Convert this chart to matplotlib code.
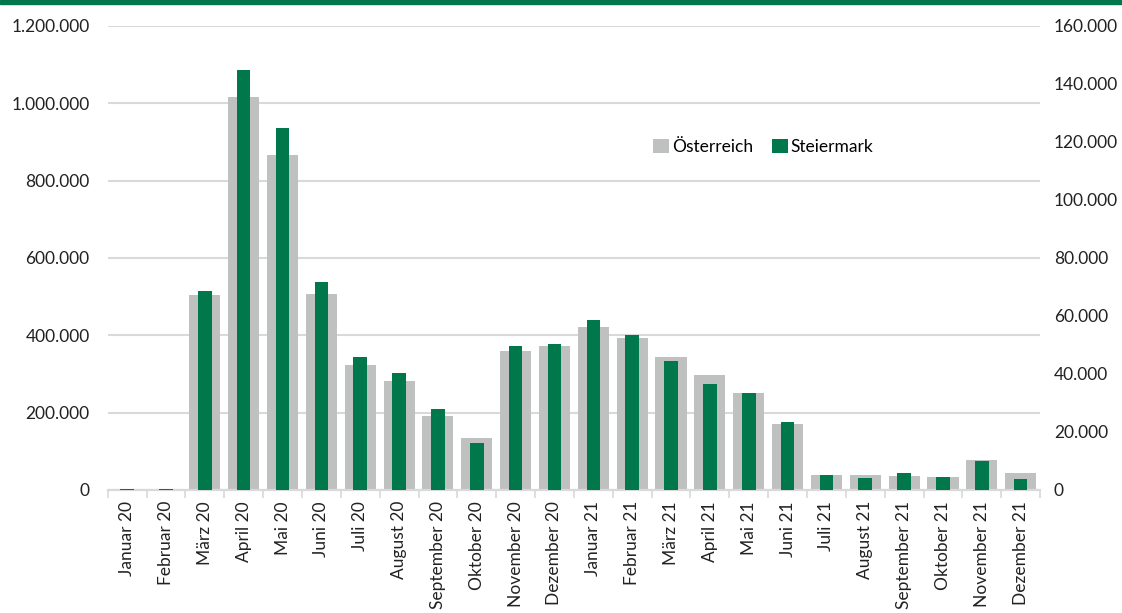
import matplotlib.pyplot as plt
import matplotlib.ticker as mticker
from matplotlib.patches import Rectangle
import numpy as np

months = ["Januar 20", "Februar 20", "März 20", "April 20", "Mai 20", "Juni 20",
          "Juli 20", "August 20", "September 20", "Oktober 20", "November 20", "Dezember 20",
          "Januar 21", "Februar 21", "März 21", "April 21", "Mai 21", "Juni 21",
          "Juli 21", "August 21", "September 21", "Oktober 21", "November 21", "Dezember 21"]

# Österreich (linke Achse)
oesterreich = [3000, 3000, 504000, 1017000, 867000, 507000,
               323000, 282000, 192000, 134000, 360000, 372000,
               422000, 393000, 344000, 297000, 251000, 171000,
               39000, 39000, 36000, 34000, 78000, 44000]

# Steiermark (rechte Achse)
steiermark = [300, 300, 68600, 144800, 124800, 71700,
              45900, 40300, 27800, 16300, 49600, 50300,
              58600, 53400, 44500, 36400, 33400, 23400,
              5200, 4100, 5900, 4500, 10000, 3800]

GREY = "#BFC1C1"
GREEN = "#00784B"
GRID = "#D9D9D9"

plt.rcParams["font.family"] = ["Lato", "DejaVu Sans"]

fig = plt.figure(figsize=(11.22, 6.13), dpi=100)
ax = fig.add_axes([0.096, 0.2007, 0.831, 0.757])
ax2 = ax.twinx()

x = np.arange(len(months))
ax.bar(x, oesterreich, width=0.8, color=GREY, label="Österreich", zorder=2)
ax2.bar(x, steiermark, width=0.35, color=GREEN, label="Steiermark", zorder=3)

ax.set_xlim(-0.5, len(months) - 0.5)
ax.set_ylim(0, 1200000)
ax2.set_ylim(0, 160000)
ax.set_yticks(np.arange(0, 1200001, 200000))
ax2.set_yticks(np.arange(0, 160001, 20000))

dots = mticker.FuncFormatter(lambda v, p: f"{v:,.0f}".replace(",", "."))
ax.yaxis.set_major_formatter(dots)
ax2.yaxis.set_major_formatter(dots)

ax.grid(axis="y", color=GRID, linewidth=1.5, zorder=0)
ax.set_axisbelow(True)

# Kategorien mit Trennstrichen
ax.set_xticks(x)
ax.set_xticklabels(months, rotation=90, fontsize=12.5, color="#222222")
ax.set_xticks(np.arange(-0.5, len(months), 1), minor=True)
ax.tick_params(axis="x", which="major", length=0, pad=8)
ax.tick_params(axis="x", which="minor", length=6, color=GRID, width=1.2)

ax.tick_params(axis="y", length=0, labelsize=12.5, labelcolor="#222222", pad=13)
ax2.tick_params(axis="y", length=0, labelsize=12.5, labelcolor="#222222", pad=10)

for a in (ax, ax2):
    for side in ("top", "left", "right"):
        a.spines[side].set_visible(False)
    a.spines["bottom"].set_color(GRID)
    a.spines["bottom"].set_linewidth(1.5)

h1, l1 = ax.get_legend_handles_labels()
h2, l2 = ax2.get_legend_handles_labels()
ax2.legend(h1 + h2, l1 + l2, loc="center", bbox_to_anchor=(0.703, 0.739), ncol=2,
           frameon=False, fontsize=12.5, handlelength=0.9, handleheight=0.9,
           handletextpad=0.15, columnspacing=1.1)

# gruener Balken oben
fig.add_artist(Rectangle((0, 0.994), 1, 0.006, transform=fig.transFigure,
                         color=GREEN, clip_on=False))

fig.savefig("out.png", dpi=100)
